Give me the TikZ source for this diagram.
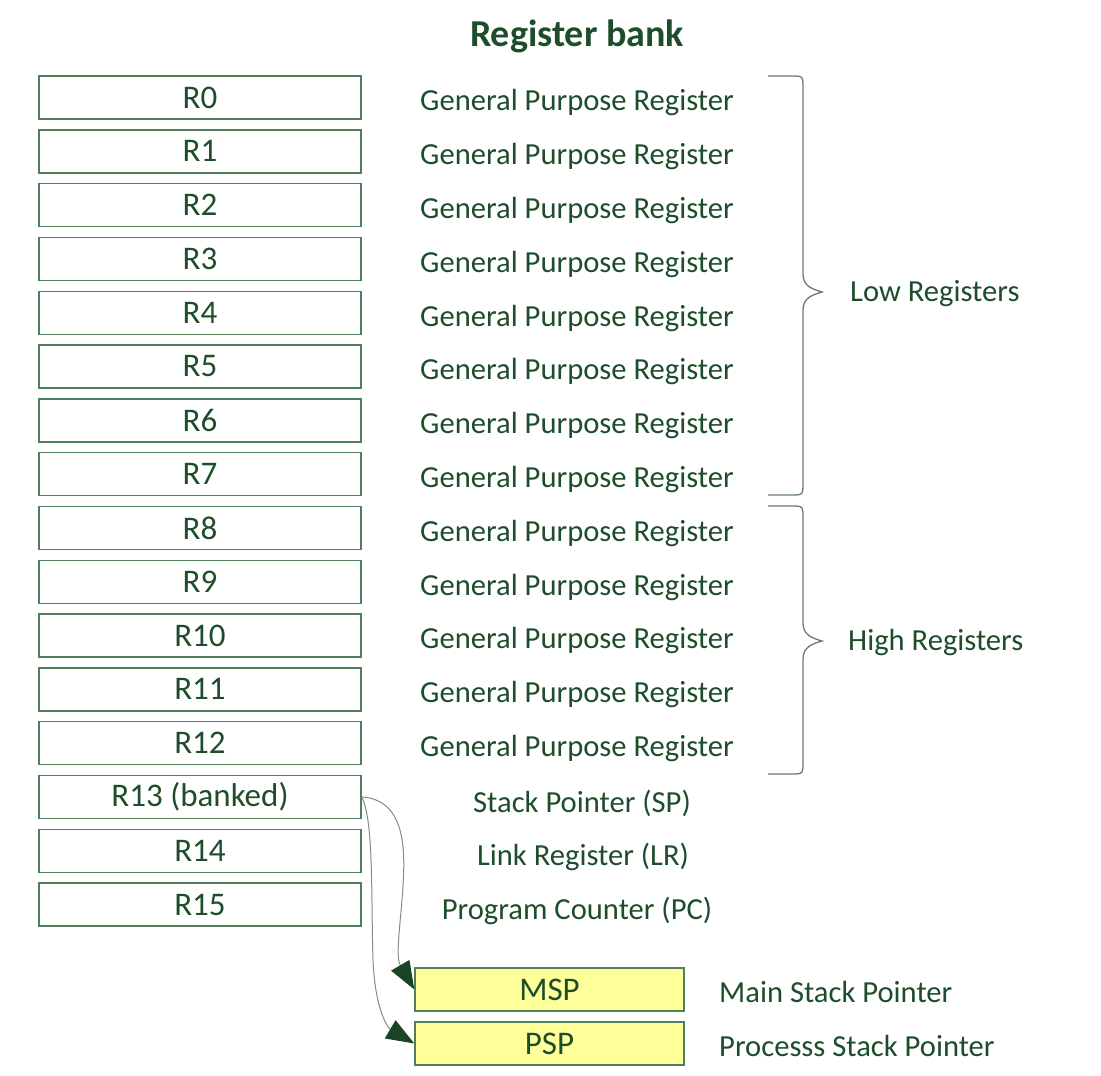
\documentclass[tikz,border=0pt]{standalone}
\usepackage{fontspec}
\setmainfont{Carlito}
\usetikzlibrary{arrows.meta}
\definecolor{txt}{HTML}{1E4D2B}
\definecolor{boxc}{HTML}{4F7F5B}
\definecolor{bracec}{HTML}{667F6C}
\definecolor{arrc}{HTML}{7E8F82}
\definecolor{headc}{HTML}{1B4424}
\definecolor{yel}{HTML}{FFFF99}
\begin{document}
\begin{tikzpicture}[x=1pt,y=-1pt,
  reg/.style={draw=boxc, line width=1.4pt, minimum width=322pt, minimum height=43pt, inner sep=0pt, text=txt, font=\fontsize{33}{38}\selectfont},
  spbox/.style={reg, fill=yel, minimum width=269pt},
  lbl/.style={text=txt, inner sep=0pt, font=\fontsize{30.6}{36}\selectfont},
  ttl/.style={text=txt, inner sep=0pt, font=\fontsize{38}{44}\selectfont\bfseries},
  brace/.style={draw=bracec, line width=1.3pt},
  ptr/.style={draw=arrc, line width=1pt, -{Triangle[length=28pt,width=21pt,fill=headc,color=headc]}}
]
\useasboundingbox (0,0) rectangle (1101,1076);
\node[ttl] (title) at (577,36) {Register bank};
\foreach \i in {0,...,12}{
  \node[reg] (r\i) at (200,{97.5+53.8*\i}) {R\i};
  \node[lbl] (g\i) at (577,{103+53.8*\i}) {General Purpose Register};
}
\node[reg] (r13) at (200,796.9) {R13 (banked)};
\node[reg] (r14) at (200,850.7) {R14};
\node[reg] (r15) at (200,904.5) {R15};
\node[lbl] (sp) at (582,803) {Stack Pointer (SP)};
\node[lbl] (lr) at (583,857) {Link Register (LR)};
\node[lbl] (pc) at (577,911) {Program Counter (PC)};
\node[spbox] (msp) at (549.5,989.5) {MSP};
\node[spbox] (psp) at (549.5,1043.5) {PSP};
\node[lbl,anchor=west] (mspl) at (719,992) {Main Stack Pointer};
\node[lbl,anchor=west] (pspl) at (719,1046) {Processs Stack Pointer};
\node[lbl,anchor=west] (low) at (850,294) {Low Registers};
\node[lbl,anchor=west] (high) at (848,642) {High Registers};
% braces
\draw[brace] (768,76) -- (791,76) .. controls (803,76) .. (803,88) -- (803,274)
  .. controls (803,286) and (812,289) .. (822,292) .. controls (812,295) and (803,298) .. (803,310)
  -- (803,483) .. controls (803,495) .. (791,495) -- (768,495);
\draw[brace] (768,506) -- (791,506) .. controls (803,506) .. (803,518) -- (803,623)
  .. controls (803,635) and (812,638) .. (822,641) .. controls (812,644) and (803,647) .. (803,659)
  -- (803,762) .. controls (803,774) .. (791,774) -- (768,774);
% pointers
\coordinate (m1) at (402,900);
\coordinate (p1) at (373,960);
\draw[ptr] (r13.east) .. controls (410,800) and (405,860) .. (m1) .. controls (399,935) and (396,958) .. (msp.west);
\draw[ptr] (r13.east) .. controls (374,820) and (371,900) .. (p1) .. controls (375,1010) and (388,1028) .. (psp.west);
\end{tikzpicture}
\end{document}
